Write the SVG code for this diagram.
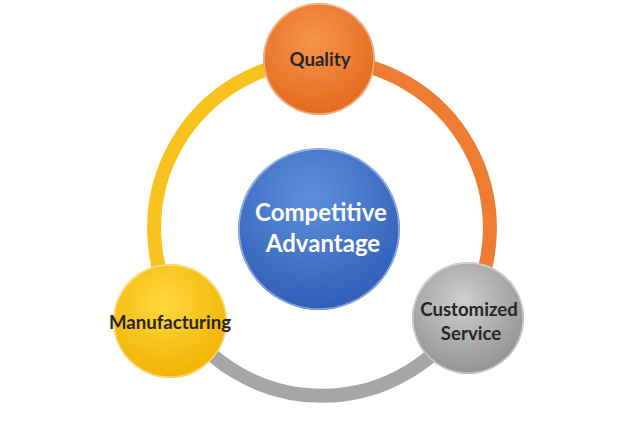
<svg xmlns="http://www.w3.org/2000/svg" width="640" height="427" viewBox="0 0 640 427">
<defs>
<style>
.arc{fill:none;stroke-width:14}
.lbl{font-family:Lato,"Open Sans","Liberation Sans",sans-serif;font-weight:bold;text-anchor:middle}
.dark{fill:#262626;font-size:18.6px}
.white{fill:#ffffff;font-size:24px}
.rim{fill:none;stroke:#ffffff;stroke-opacity:0.45;stroke-width:1.5}
</style>
<radialGradient id="gOrange" cx="0.45" cy="0.35" r="0.7">
<stop offset="0" stop-color="#F5944A"/><stop offset="1" stop-color="#E3681C"/>
</radialGradient>
<radialGradient id="gGray" cx="0.45" cy="0.35" r="0.7">
<stop offset="0" stop-color="#CFCFCF"/><stop offset="1" stop-color="#8E8E8E"/>
</radialGradient>
<radialGradient id="gYellow" cx="0.45" cy="0.35" r="0.7">
<stop offset="0" stop-color="#FFD83D"/><stop offset="1" stop-color="#F0B100"/>
</radialGradient>
<radialGradient id="gBlue" cx="0.45" cy="0.3" r="0.75">
<stop offset="0" stop-color="#5F8FDB"/><stop offset="1" stop-color="#2C5CB5"/>
</radialGradient>
</defs>
<rect width="640" height="427" fill="#ffffff"/>
<g id="connectors">
<path class="arc" stroke="#EE7D33" d="M322 60 A168 168 0 0 1 465 316"/>
<path class="arc" stroke="#A6A6A6" d="M465 316 A168 168 0 0 1 179 316"/>
<path class="arc" stroke="#F9C21F" d="M179 316 A168 168 0 0 1 322 60"/>
</g>
<g id="center">
<circle cx="319" cy="229" r="81" fill="url(#gBlue)"/>
<circle cx="319" cy="229" r="80" class="rim"/>
<text class="lbl white" x="321" y="221">Competitive</text>
<text class="lbl white" x="323" y="252">Advantage</text>
</g>
<g id="quality">
<circle cx="319" cy="59" r="56" fill="url(#gOrange)"/>
<circle cx="319" cy="59" r="55" class="rim"/>
<text class="lbl dark" x="320" y="66">Quality</text>
</g>
<g id="customized">
<circle cx="468" cy="318" r="56" fill="url(#gGray)"/>
<circle cx="468" cy="318" r="55" class="rim"/>
<text class="lbl dark" x="469" y="316">Customized</text>
<text class="lbl dark" x="471" y="340">Service</text>
</g>
<g id="manufacturing">
<circle cx="170" cy="321" r="57" fill="url(#gYellow)"/>
<circle cx="170" cy="321" r="56" class="rim"/>
<text class="lbl dark" x="170" y="329">Manufacturing</text>
</g>
</svg>
